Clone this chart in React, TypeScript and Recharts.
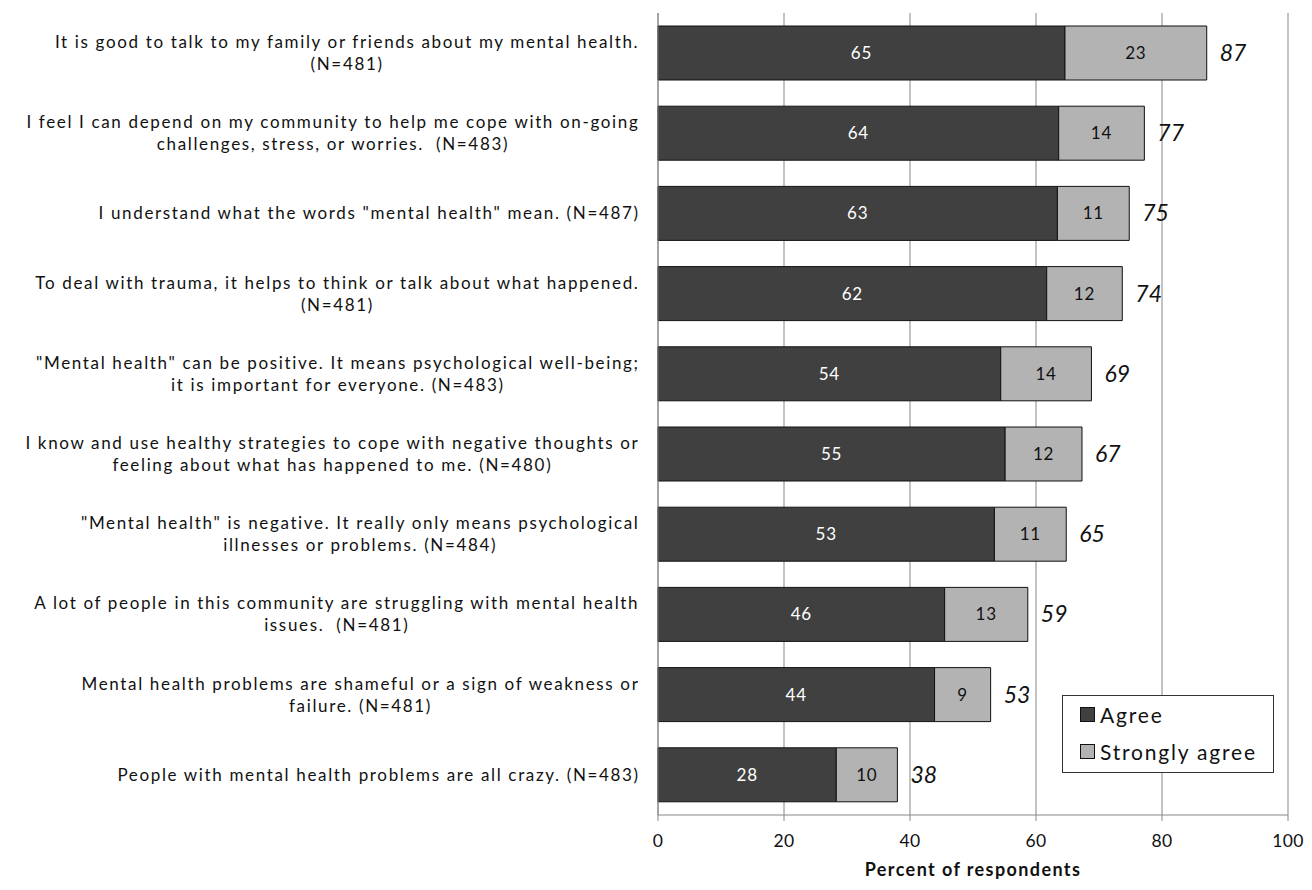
import React from 'react';
import { BarChart, Bar, XAxis, YAxis, CartesianGrid, LabelList, Legend } from 'recharts';

const statements = [
  'It is good to talk to my family or friends about my mental health.\n(N=481)',
  'I feel I can depend on my community to help me cope with on-going\nchallenges, stress, or worries.  (N=483)',
  'I understand what the words "mental health" mean. (N=487)',
  'To deal with trauma, it helps to think or talk about what happened.\n(N=481)',
  '"Mental health" can be positive. It means psychological well-being;\nit is important for everyone. (N=483)',
  'I know and use healthy strategies to cope with negative thoughts or\nfeeling about what has happened to me. (N=480)',
  '"Mental health" is negative. It really only means psychological\nillnesses or problems. (N=484)',
  'A lot of people in this community are struggling with mental health\nissues.  (N=481)',
  'Mental health problems are shameful or a sign of weakness or\nfailure. (N=481)',
  'People with mental health problems are all crazy. (N=483)',
];

const agreeValues = [64.6, 63.6, 63.4, 61.7, 54.4, 55.1, 53.4, 45.5, 43.9, 28.3];
const stronglyValues = [22.5, 13.6, 11.4, 12.0, 14.4, 12.2, 11.4, 13.2, 8.9, 9.7];
const agreeLabels = [65, 64, 63, 62, 54, 55, 53, 46, 44, 28];
const stronglyLabels = [23, 14, 11, 12, 14, 12, 11, 13, 9, 10];
const totalLabels = [87, 77, 75, 74, 69, 67, 65, 59, 53, 38];
const xTicks = [0, 20, 40, 60, 80, 100];
const boundaryTicks = [0, 1, 2, 3, 4, 5, 6, 7, 8, 9, 10];

const seriesNames = ['Agree', 'Strongly agree'];
const seriesColors = ['#404040', '#b3b3b3'];

const data = statements.map((s, i) => ({
  name: s,
  agree: agreeValues[i],
  strongly: stronglyValues[i],
  agreeLabel: agreeLabels[i],
  stronglyLabel: stronglyLabels[i],
  totalLabel: totalLabels[i],
}));

const FONT = 'Lato, "Noto Sans", sans-serif';
const LABEL_SIZE = 17;
const LABEL_LS = 1.65;
let ctx: CanvasRenderingContext2D | null = null;
function measure(text: string, size: number, ls: number) {
  if (!ctx) ctx = document.createElement('canvas').getContext('2d');
  if (!ctx) return text.length * (size * 0.5 + ls);
  ctx.font = `${size}px Lato`;
  return ctx.measureText(text).width + ls * text.length;
}

const StatementTick = (props: any) => {
  const { x, y, payload } = props;
  const lines = String(payload.value).split('\n');
  const w = Math.max(...lines.map((l) => measure(l, LABEL_SIZE, LABEL_LS)));
  const cx = x - w / 2;
  const lh = 22;
  const start = y - ((lines.length - 1) * lh) / 2;
  return (
    <g>
      {lines.map((l, i) => (
        <text
          key={i}
          x={cx}
          y={start + i * lh}
          dy="0.35em"
          textAnchor="middle"
          fontFamily={FONT}
          fontSize={LABEL_SIZE}
          letterSpacing={LABEL_LS}
          fill="#111"
          style={{ whiteSpace: 'pre' }}
        >
          {l}
        </text>
      ))}
    </g>
  );
};

const TotalLabel = (props: any) => {
  const { x, y, width, height, value } = props;
  return (
    <text x={x + width + 13} y={y + height / 2} dy="0.35em" textAnchor="start" fontFamily={FONT} fontSize={23} fontStyle="italic" fill="#111">
      {value}
    </text>
  );
};

const LegendBox = () => (
  <div
    style={{
      width: 212,
      height: 78,
      boxSizing: 'border-box',
      border: '1.5px solid #333',
      background: '#fff',
      fontFamily: FONT,
      fontSize: 21,
      letterSpacing: 1.8,
      color: '#111',
      padding: '2px 0 0 17px',
    }}
  >
    {seriesNames.map((n, i) => (
      <div key={n} style={{ display: 'flex', alignItems: 'center', height: 32, marginBottom: i === 0 ? 5 : 0 }}>
        <span style={{ width: 13, height: 13, background: seriesColors[i], border: '1px solid #111', marginRight: 5, display: 'inline-block' }} />
        <span>{n}</span>
      </div>
    ))}
  </div>
);

export default function App() {
  return (
    <BarChart
      width={1296}
      height={874}
      data={data}
      layout="vertical"
      margin={{ top: 5, right: 16, bottom: 0, left: 0 }}
    >
      <CartesianGrid horizontal={false} stroke="#868686" strokeWidth={1} />
      <XAxis
        type="number"
        domain={[0, 100]}
        ticks={xTicks}
        tickSize={6}
        tickMargin={14}
        stroke="#868686"
        tick={{ fill: '#111', fontSize: 17.5, fontFamily: FONT, letterSpacing: 0.3 }}
        height={67}
        label={{ value: 'Percent of respondents', position: 'insideBottom', offset: 6, fontFamily: FONT, fontWeight: 'bold', fontSize: 18, letterSpacing: 1.4, fill: '#111' }}
      />
      <YAxis
        yAxisId="edges"
        type="number"
        domain={[0, 10]}
        ticks={boundaryTicks}
        tick={false}
        tickSize={6}
        axisLine={false}
        tickLine={{ stroke: '#868686' }}
        width={0}
      />
      <YAxis
        type="category"
        dataKey="name"
        width={650}
        tickSize={0}
        tickMargin={18}
        tickLine={false}
        axisLine={{ stroke: '#868686' }}
        tick={<StatementTick />}
        interval={0}
      />
      <Legend
        layout="vertical"
        align="center"
        verticalAlign="middle"
        content={<LegendBox />}
        wrapperStyle={{ left: 1054, top: 687, width: 212, height: 78 }}
      />
      <Bar dataKey="agree" name={seriesNames[0]} stackId="a" fill={seriesColors[0]} stroke="#111" strokeWidth={1} barSize={54} isAnimationActive={false}>
        <LabelList dataKey="agreeLabel" position="center" fill="#fff" fontSize={17} fontFamily={FONT} letterSpacing={0.8} />
      </Bar>
      <Bar dataKey="strongly" name={seriesNames[1]} stackId="a" fill={seriesColors[1]} stroke="#111" strokeWidth={1} barSize={54} isAnimationActive={false}>
        <LabelList dataKey="stronglyLabel" position="center" fill="#111" fontSize={17} fontFamily={FONT} letterSpacing={0.8} />
        <LabelList dataKey="totalLabel" content={<TotalLabel />} />
      </Bar>
    </BarChart>
  );
}
